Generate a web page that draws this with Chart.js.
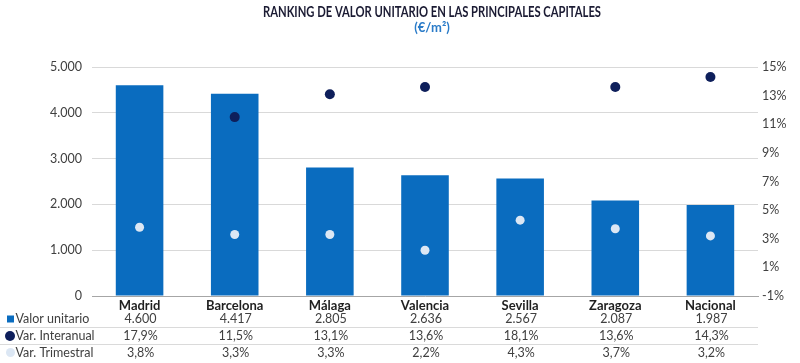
<!DOCTYPE html>
<html><head><meta charset="utf-8">
<script src="https://cdn.jsdelivr.net/npm/chart.js@4"></script>
<style>html,body{margin:0;padding:0;background:#fff;}canvas{display:block;}</style>
</head><body>
<canvas id="c" width="800" height="363"></canvas>
<script>
const categories = ['Madrid','Barcelona','Málaga','Valencia','Sevilla','Zaragoza','Nacional'];
const valorUnitario = [4600,4417,2805,2636,2567,2087,1987];
const varInteranual = [17.9,11.5,13.1,13.6,18.1,13.6,14.3];
const varTrimestral = [3.8,3.3,3.3,2.2,4.3,3.7,3.2];
const leftTicks = [0,1000,2000,3000,4000,5000];
const rightTicks = [-1,1,3,5,7,9,11,13,15];
const rowLabels = ['Valor unitario','Var. Interanual','Var. Trimestral'];
const titleText = 'RANKING DE VALOR UNITARIO EN LAS PRINCIPALES CAPITALES';
const subtitleText = '(€/m²)';

const BAR = '#0a6cbf', DARK = '#0e1f5b', LIGHT = '#dce7f4';
const FONT = 'Lato, "Open Sans", sans-serif';

function fmtThousands(v){ return String(v).replace(/\B(?=(\d{3})+(?!\d))/g,'.'); }
function fmtPct(v){ return v.toFixed(1).replace('.',',')+'%'; }

const titlePlugin = {
  id:'titles',
  afterDraw(chart){
    const ctx = chart.ctx;
    ctx.save();
    ctx.textAlign='center'; ctx.textBaseline='middle';
    ctx.fillStyle='#1b1b33';
    ctx.font='bold 15px '+FONT;
    ctx.fillText(titleText, 432, 12, 338);
    ctx.fillStyle='#2a7bc8';
    ctx.font='bold 13px '+FONT;
    ctx.fillText(subtitleText, 432, 28);
    ctx.restore();
  }
};

const tablePlugin = {
  id:'table',
  afterDraw(chart){
    const ctx = chart.ctx, xs = chart.scales.x, b = chart.chartArea.bottom;
    const rowsY = [b+23, b+40, b+56.5];
    ctx.save();
    ctx.strokeStyle='#dadada'; ctx.lineWidth=1;
    [b+31.5, b+48.5].forEach(y=>{ctx.beginPath();ctx.moveTo(0,y);ctx.lineTo(chart.chartArea.right,y);ctx.stroke();});
    ctx.fillStyle=BAR; ctx.fillRect(7, rowsY[0]-3.5, 7, 7);
    ctx.fillStyle=DARK; ctx.beginPath(); ctx.arc(10, rowsY[1], 5, 0, Math.PI*2); ctx.fill();
    ctx.fillStyle=LIGHT; ctx.beginPath(); ctx.arc(10.5, rowsY[2], 4.5, 0, Math.PI*2); ctx.fill();
    ctx.fillStyle='#404040'; ctx.font='12.5px '+FONT;
    ctx.textBaseline='middle'; ctx.textAlign='left';
    rowLabels.forEach((t,i)=>ctx.fillText(t, 15.5, rowsY[i]));
    ctx.textAlign='center';
    const rows = [valorUnitario.map(fmtThousands), varInteranual.map(fmtPct), varTrimestral.map(fmtPct)];
    categories.forEach((c,i)=>{
      const x = xs.getPixelForValue(i)+1;
      rows.forEach((r,j)=>ctx.fillText(r[i], x, rowsY[j]));
    });
    ctx.restore();
  }
};

new Chart(document.getElementById('c'), {
  data:{
    labels: categories,
    datasets:[
      {type:'line', label:'Var. Interanual', data:varInteranual, yAxisID:'y2', showLine:false,
       pointRadius:5, pointBackgroundColor:DARK, pointBorderWidth:0, borderColor:DARK, order:1},
      {type:'line', label:'Var. Trimestral', data:varTrimestral, yAxisID:'y2', showLine:false,
       pointRadius:4.5, pointBackgroundColor:LIGHT, pointBorderWidth:0, borderColor:LIGHT, order:1},
      {type:'bar', label:'Valor unitario', data:valorUnitario, yAxisID:'y', backgroundColor:BAR,
       barPercentage:0.5, categoryPercentage:1, order:2}
    ]
  },
  options:{
    responsive:false, animation:false, devicePixelRatio:1,
    layout:{padding:{top:67,left:0,right:0,bottom:0}},
    plugins:{legend:{display:false}, tooltip:{enabled:false}, title:{display:false}},
    scales:{
      x:{
        grid:{display:false, drawTicks:false},
        border:{display:true, color:'#a6a6a6', width:1},
        ticks:{padding:2, color:'#1f1f1f', font:{family:FONT, size:13, weight:'bold'}},
        afterFit(s){ s.height = 67; }
      },
      y:{
        position:'left', min:0, max:5000,
        afterBuildTicks(s){ s.ticks = leftTicks.map(v=>({value:v})); },
        grid:{color:'#d9d9d9', drawTicks:false},
        border:{display:false},
        ticks:{padding:10, color:'#404040', font:{family:FONT, size:12.5}, callback:v=>fmtThousands(v)},
        afterFit(s){ s.width = 92; }
      },
      y2:{
        position:'right', min:-1, max:15,
        afterBuildTicks(s){ s.ticks = rightTicks.map(v=>({value:v})); },
        grid:{display:false, drawTicks:false},
        border:{display:false},
        ticks:{padding:4, color:'#404040', font:{family:FONT, size:12.5}, callback:v=>v+'%'},
        afterFit(s){ s.width = 42; }
      }
    }
  },
  plugins:[titlePlugin, tablePlugin]
});
</script>
</body></html>
